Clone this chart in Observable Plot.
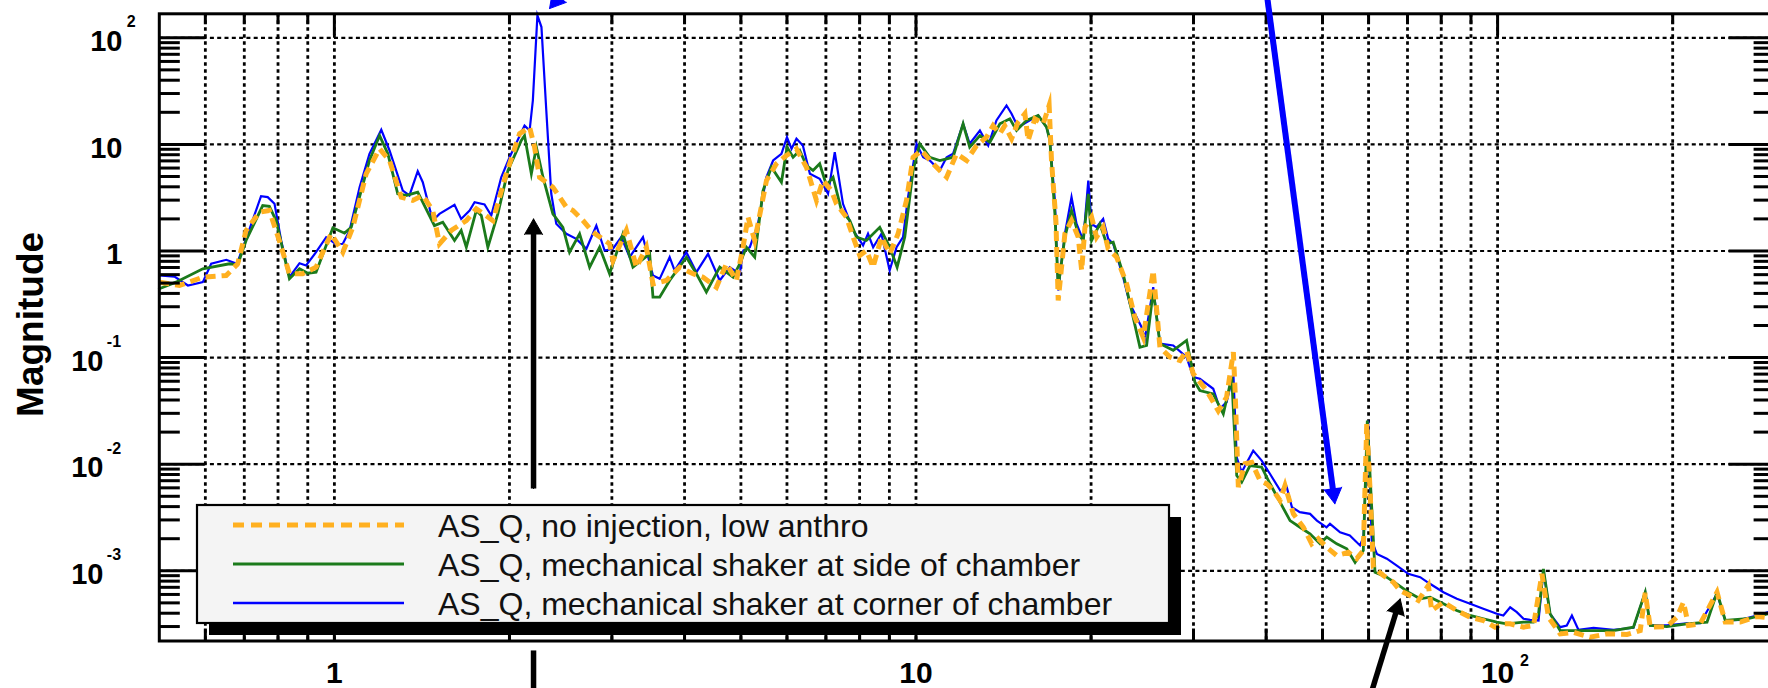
<!DOCTYPE html>
<html>
<head>
<meta charset="utf-8">
<script src="https://cdn.jsdelivr.net/npm/d3@7"></script>
<script src="https://cdn.jsdelivr.net/npm/@observablehq/plot@0.6"></script>
<style>
  html, body { margin: 0; padding: 0; background: #fff; overflow: hidden; }
  #wrap { position: relative; width: 1768px; height: 688px; overflow: hidden; background: #fff; }
  #wrap svg { max-width: none !important; display: block; }
</style>
</head>
<body>
<div id="wrap"></div>
<script>
// ---------------- DATA (frequency in Hz, magnitude) ----------------
const seriesNames = [
  "AS_Q, no injection, low anthro",
  "AS_Q, mechanical shaker at side of chamber",
  "AS_Q, mechanical shaker at corner of chamber"
];

// orange dashed: no injection, low anthro
const quietRun = [
[0.5,0.51],[0.5415,0.475],[0.594,0.568],[0.6515,0.589],[0.682,0.759],[0.705,1.557],[0.743,2.31],[0.773,2.40],[0.804,1.254],[0.837,0.611],[0.882,0.611],[0.93,0.705],[0.987,1.45],[1.034,0.974],[1.076,1.67],[1.134,5.30],[1.196,9.09],[1.244,7.06],[1.303,3.20],[1.364,2.98],[1.419,3.32],[1.476,2.40],[1.516,1.168],[1.588,1.557],[1.686,1.93],
[1.754,2.49],[1.873,1.93],[1.975,5.30],[2.082,12.6],[2.166,14.5],[2.209,9.41],[2.253,4.92],[2.375,3.97],[2.505,2.58],[2.572,2.40],[2.676,1.93],[2.783,1.50],[2.973,1.168],[3.013,0.815],[3.177,1.557],[3.306,0.705],[3.439,1.085],[3.53,0.492],[3.722,0.529],[3.924,0.705],[4.137,0.611],[4.304,0.568],[4.538,0.457],[4.721,0.759],[4.912,0.529],
[5.042,1.085],[5.143,2.08],[5.281,1.254],[5.532,4.58],[5.754,6.58],[5.987,7.87],[6.229,9.09],[6.481,6.11],[6.744,2.98],[6.92,4.58],[7.155,3.69],[7.298,2.77],[7.593,2.08],[7.796,1.35],[8.004,0.907],[8.219,1.01],[8.438,0.705],[8.723,1.35],[9.014,0.941],[9.316,1.45],[9.631,2.98],[9.886,7.58],[10.22,8.77],[10.7,6.58],[11.29,4.92],[11.74,8.16],[12.22,7.06],[12.71,9.76],
[13.22,11.7],[13.57,15.0],[13.94,12.6],[14.21,15.0],[14.6,11.3],[14.98,16.2],[15.39,19.4],[15.59,10.9],[16.01,17.4],[16.55,15.6],[16.94,23.2],[17.1,7.06],[17.4,1.93],[17.56,0.343],[18.03,1.45],[18.51,1.93],[19.01,1.35],[19.27,0.656],[19.52,1.67],[20.04,2.08],[20.44,1.35],[20.98,1.67],[21.4,1.05],[22.13,0.875],[23.02,0.492],[23.79,0.239],[24.59,0.155],[25.58,0.656],[26.27,0.125],[27.33,0.101],[28.44,0.0939],[29.19,0.1166],[29.97,0.0705],[31.6,0.0491],[33.09,0.0316],[34.2,0.0425],[35.13,0.1124],
[35.37,0.0491],[35.83,0.00609],[36.79,0.0101],[37.78,0.0104],[39.04,0.00704],[40.09,0.00655],[41.15,0.00567],[42.26,0.00457],[43.1,0.00631],[44.55,0.00342],[46.35,0.00256],[47.91,0.00179],[49.17,0.0020],[50.84,0.00166],[52.9,0.00139],[55.38,0.00149],[57.26,0.0013],[58.76,0.00155],[59.57,0.0239],[60.36,0.00567],[61.15,0.00108],[63.62,0.000903],[66.18,0.000781],[67.97,0.000653],[70.7,0.000586],[73.08,0.000527],[76.03,0.000728],[77.05,0.000424],[80.69,0.000508],[85.07,0.000424],[89.67,0.000367],[94.54,0.000342],[99.0,0.000296],[102.3,0.000318],
[105.1,0.000318],[110.8,0.000296],[115.3,0.000307],[119.2,0.000937],[122.3,0.000367],[128.1,0.000256],[135,0.000265],[144.2,0.000238],[154.1,0.000256],[166.9,0.000253],[175.9,0.000275],[179.4,0.00062],[183,0.000296],[195.5,0.0003],[203.4,0.000367],[208.7,0.000508],[212.9,0.000307],[223,0.000318],[238.4,0.00063],[246.3,0.00033],[261.4,0.00033],[279.2,0.000373],[292,0.000362],[300,0.00037]
];

// green: mechanical shaker at side of chamber
const sideShaker = [
[0.5,0.442],[0.534,0.51],[0.594,0.681],[0.66,0.759],[0.682,0.742],[0.705,1.254],[0.753,2.67],[0.773,2.62],[0.794,1.93],[0.837,0.548],[0.871,0.681],[0.9,0.619],[0.93,0.633],[0.994,1.65],[1.041,1.47],[1.069,1.67],[1.149,7.06],[1.196,12.1],[1.236,8.16],[1.285,3.44],[1.329,3.32],[1.391,3.56],[1.486,1.73],[1.536,1.86],[1.609,1.254],[1.652,1.557],[1.686,1.085],
[1.754,2.40],[1.789,2.15],[1.836,1.085],[1.91,2.23],[1.988,5.69],[2.096,10.9],[2.123,12.1],[2.181,5.30],[2.225,9.41],[2.284,4.92],[2.375,2.23],[2.471,1.67],[2.537,0.974],[2.64,1.45],[2.747,0.705],[2.858,1.085],[2.973,0.611],[3.134,1.45],[3.261,0.705],[3.484,0.941],[3.53,0.369],[3.625,0.369],[3.771,0.529],[4.029,0.875],[4.192,0.611],[4.361,0.411],[4.598,0.705],[4.846,0.568],
[4.977,0.759],[5.11,1.085],[5.281,0.875],[5.458,3.69],[5.642,6.11],[5.87,4.42],[6.002,9.41],[6.147,7.58],[6.311,8.77],[6.481,6.34],[6.653,5.69],[6.83,6.58],[7.015,4.12],[7.202,4.92],[7.444,2.40],[7.694,1.93],[7.9,1.35],[8.219,1.254],[8.664,1.67],[9.014,1.085],[9.28,0.705],[9.566,1.35],[9.886,5.69],[10.15,10.13],[10.56,7.58],[10.99,7.06],[11.58,7.58],[12.05,15.6],[12.37,9.41],[12.88,12.1],
[13.4,10.5],[13.94,15.6],[14.5,17.4],[14.89,13.5],[15.49,16.8],[16.22,18.7],[16.77,14.5],[16.99,10.9],[17.33,2.23],[17.56,0.457],[18.03,1.35],[18.51,2.40],[19.01,1.45],[19.39,1.254],[19.78,3.44],[20.04,1.254],[20.71,1.80],[21.27,1.168],[21.83,1.21],[22.71,0.611],[23.48,0.277],[24.27,0.125],[24.92,0.130],[25.58,0.426],[26.27,0.135],[27.69,0.117],[29.19,0.145],[30.17,0.0588],[30.77,0.0491],[32.44,0.0457],[33.76,0.0297],[34.9,0.0655],
[35.6,0.00783],[36.31,0.00678],[37.52,0.00972],[39.3,0.00937],[40.62,0.00655],[42.26,0.0044],[43.97,0.00296],[45.73,0.00256],[47.58,0.00222],[49.52,0.00179],[50.84,0.00207],[52.9,0.00179],[55.04,0.00161],[56.88,0.0012],[58.76,0.00155],[59.7,0.0257],[60.75,0.00395],[61.55,0.00097],[64.46,0.000871],[67.07,0.000755],[70.23,0.00063],[73.56,0.000546],[76.53,0.000565],[80.69,0.00049],[85.07,0.000424],[89.67,0.000381],[94.54,0.000355],[99.68,0.00033],[103.7,0.000318],
[110.8,0.00033],[115.3,0.00033],[117.6,0.000395],[119.9,0.00104],[123.1,0.000395],[128.1,0.000275],[136.9,0.000275],[146.2,0.000275],[158.2,0.000275],[171.2,0.000296],[179.4,0.00063],[183.0,0.000307],[195.5,0.0003],[211.6,0.000318],[229.1,0.00033],[238.4,0.00063],[246.3,0.000342],[268.4,0.000355],[292.0,0.000395],[300,0.0004]
];

// blue: mechanical shaker at corner of chamber
const cornerShaker = [
[0.5,0.589],[0.531,0.576],[0.56,0.475],[0.594,0.51],[0.614,0.759],[0.652,0.827],[0.68,0.759],[0.705,1.30],[0.748,3.27],[0.768,3.20],[0.789,2.77],[0.81,1.254],[0.837,0.568],[0.871,0.768],[0.894,0.731],[0.93,0.974],[0.968,1.347],[1.007,1.151],[1.034,1.168],[1.062,1.557],[1.105,3.97],[1.149,8.16],[1.204,13.7],[1.244,8.77],[1.311,3.69],[1.346,3.32],[1.391,5.61],[1.419,4.42],[1.476,1.93],[1.516,2.23],[1.609,2.71],[1.652,2.00],[1.708,2.40],
[1.742,2.87],[1.812,2.73],[1.861,2.15],[1.936,4.92],[2.001,7.58],[2.123,15.0],[2.166,13.5],[2.194,25.8],[2.234,162],[2.270,126],[2.314,20.8],[2.360,3.44],[2.407,1.80],[2.505,1.45],[2.606,1.30],[2.712,1.05],[2.821,1.73],[2.915,1.01],[3.013,1.05],[3.114,1.35],[3.219,0.875],[3.393,1.35],[3.530,0.589],[3.625,0.548],[3.771,0.875],[3.846,0.656],[4.029,0.974],[4.192,0.633],[4.390,0.941],[4.598,0.529],[4.784,0.705],[4.977,0.611],
[5.05,1.01],[5.18,1.085],[5.35,1.80],[5.53,4.92],[5.68,7.06],[5.87,8.16],[6.00,11.7],[6.11,9.09],[6.23,11.3],[6.39,9.76],[6.57,5.30],[6.83,4.76],[7.06,3.44],[7.25,8.45],[7.49,2.77],[7.80,1.56],[8.11,1.13],[8.27,1.45],[8.44,1.085],[8.72,1.45],[9.01,0.656],[9.26,1.085],[9.50,1.35],[9.69,3.20],[10.02,10.13],[10.29,7.58],[10.56,7.06],[10.99,5.69],[11.29,7.58],[11.58,8.16],[12.05,15.6],[12.37,10.13],[12.88,13.5],
[13.31,9.76],[13.75,16.8],[14.31,23.2],[14.60,19.4],[14.98,14.5],[15.70,16.8],[16.22,18.7],[16.77,14.5],[16.99,10.9],[17.33,2.98],[17.56,0.426],[18.03,1.45],[18.51,3.20],[18.88,1.80],[19.39,1.254],[19.78,4.58],[20.04,1.80],[20.44,1.67],[20.98,2.00],[21.40,1.30],[21.83,1.168],[22.71,0.568],[23.32,0.320],[24.43,0.193],[24.75,0.150],[25.58,0.457],[26.27,0.135],[27.69,0.130],[29.19,0.101],[29.97,0.0655],[30.77,0.0633],[32.44,0.0510],[33.31,0.0331],[34.20,0.0382],[35.13,0.0705],
[35.6,0.0116],[36.3,0.00841],[38.0,0.0134],[39.3,0.0108],[40.6,0.00813],[42.3,0.00567],[43.4,0.00609],[44.3,0.00395],[45.7,0.00355],[47.6,0.00342],[48.9,0.00296],[50.8,0.00256],[51.5,0.00276],[53.6,0.0023],[55.7,0.00214],[58.0,0.00173],[58.8,0.00207],[59.9,0.0257],[60.75,0.00192],[62.0,0.00144],[64.5,0.0013],[67.1,0.00112],[70.2,0.000937],[73.6,0.000871],[76.5,0.000755],[80.7,0.00063],[85.1,0.000546],[89.7,0.00049],[94.5,0.00044],[99.7,0.000395],[102.3,0.000381],[105.1,0.000455],
[107.9,0.000409],[110.8,0.000355],[113.7,0.000347],[117.6,0.000342],[119.9,0.00101],[123.1,0.000395],[128.1,0.000296],[131.5,0.000307],[134.2,0.000381],[137.7,0.00028],[146.2,0.000292],[158.2,0.00028],[171.2,0.000292],[179.4,0.00063],[183.0,0.000307],[195.5,0.000307],[211.6,0.000322],[223.0,0.000322],[238.4,0.000609],[246.3,0.000342],[261.4,0.000347],[279.2,0.000381],[292.0,0.000409],[300,0.00042]
];

// axes
const xDomain = [0.5, 300];
const yDomain = [2.195e-4, 167.9];
const xMajorTicks = [1, 10, 100];
const xMinorTicks = [0.6, 0.7, 0.8, 0.9, 2, 3, 4, 5, 6, 7, 8, 9, 20, 30, 40, 50, 60, 70, 80, 90, 200];
const xTickLabels = [
  {v: 1, base: "1", exp: ""},
  {v: 10, base: "10", exp: ""},
  {v: 100, base: "10", exp: "2"}
];
const yDecades = [0.001, 0.01, 0.1, 1, 10, 100];
const yTickLabels = [
  {v: 100, base: "10", exp: "2"},
  {v: 10, base: "10", exp: ""},
  {v: 1, base: "1", exp: ""},
  {v: 0.1, base: "10", exp: "-1"},
  {v: 0.01, base: "10", exp: "-2"},
  {v: 0.001, base: "10", exp: "-3"}
];
const yLabel = "Magnitude";

// annotation arrows (data coordinates: Hz, magnitude)
const annotationArrows = [
  {x1: 2.2, y1: 0.0059, x2: 2.2, y2: 2.0, color: "black"},
  {x1: 58.6, y1: 3.9e-5, x2: 68.0, y2: 0.000546, color: "black"},
  {x1: 3.02, y1: 990, x2: 2.344, y2: 188, color: "blue"},
  {x1: 39.6, y1: 428, x2: 52.5, y2: 0.00425, color: "blue"}
];
const annotationSegments = [
  {x1: 2.2, y1: 6.0e-5, x2: 2.2, y2: 1.79e-4, color: "black"}
];

// ---------------- STYLE / LAYOUT ----------------
const W = 1790, H = 700, ML = 158.8, MR = 15.4, MT = 13.3, MB = 59.5;
const innerW = W - ML - MR, innerH = H - MT - MB;
const COLORS = {orange: "#FFB020", green: "#1B7A1B", blue: "#0000FF"};
const FONT = "'Liberation Sans', Arial, Helvetica, sans-serif";

const yMinorTicks = [];
for (let k = -4; k <= 2; k++) for (let d = 2; d <= 9; d++) {
  const v = d * Math.pow(10, k);
  if (v > yDomain[0] && v < yDomain[1]) yMinorTicks.push(v);
}

const fx = d => d[0], fy = d => d[1];
const blackArrows = annotationArrows.filter(d => d.color === "black");
const blueArrows = annotationArrows.filter(d => d.color === "blue");

const plot = Plot.plot({
  width: W, height: H,
  marginLeft: ML, marginRight: MR, marginTop: MT, marginBottom: MB,
  style: {fontFamily: FONT, background: "white", color: "black"},
  x: {type: "log", domain: xDomain, axis: null},
  y: {type: "log", domain: yDomain, axis: null},
  marks: [
    // dotted grid
    Plot.ruleY(yDecades, {y: d => d, stroke: "black", strokeWidth: 2.2, strokeDasharray: "4,3.3"}),
    Plot.ruleX(xMinorTicks.concat(xMajorTicks), {x: d => d, stroke: "black", strokeWidth: 2.8, strokeDasharray: "3.4,3.6"}),
    // curves
    Plot.line(cornerShaker, {x: fx, y: fy, stroke: COLORS.blue, strokeWidth: 2.2, strokeLinejoin: "miter", strokeMiterlimit: 6}),
    Plot.line(sideShaker, {x: fx, y: fy, stroke: COLORS.green, strokeWidth: 2.8, strokeLinejoin: "miter", strokeMiterlimit: 6}),
    Plot.line(quietRun, {x: fx, y: fy, stroke: COLORS.orange, strokeWidth: 5, strokeDasharray: "10,6", strokeLinecap: "butt", strokeLinejoin: "miter", strokeMiterlimit: 6}),
    // frame
    Plot.frame({stroke: "black", strokeWidth: 3}),
    // ticks
    Plot.tickY(yDecades, {y: d => d, insetRight: innerW - 46, strokeWidth: 3, stroke: "black"}),
    Plot.tickY(yDecades, {y: d => d, insetLeft: innerW - 46, strokeWidth: 3, stroke: "black"}),
    Plot.tickY(yMinorTicks, {y: d => d, insetRight: innerW - 21, strokeWidth: 3, stroke: "black"}),
    Plot.tickY(yMinorTicks, {y: d => d, insetLeft: innerW - 21, strokeWidth: 3, stroke: "black"}),
    Plot.tickX(xMinorTicks, {x: d => d, insetBottom: innerH - 11, strokeWidth: 3, stroke: "black"}),
    Plot.tickX(xMinorTicks, {x: d => d, insetTop: innerH - 12, strokeWidth: 3, stroke: "black"}),
    Plot.tickX(xMajorTicks, {x: d => d, insetBottom: innerH - 22, strokeWidth: 3, stroke: "black"}),
    Plot.tickX(xMajorTicks, {x: d => d, insetTop: innerH - 15, strokeWidth: 3, stroke: "black"}),
    // y tick labels
    Plot.text(yTickLabels.filter(d => !d.exp.startsWith("-")), {y: "v", text: "base", frameAnchor: "left", textAnchor: "end", lineAnchor: "middle", dx: -36.8, dy: 4, fontSize: 29, fontWeight: "bold", fill: "black"}),
    Plot.text(yTickLabels.filter(d => d.exp.startsWith("-")), {y: "v", text: "base", frameAnchor: "left", textAnchor: "end", lineAnchor: "middle", dx: -55.8, dy: 4, fontSize: 29, fontWeight: "bold", fill: "black"}),
    Plot.text(yTickLabels.filter(d => d.exp && !d.exp.startsWith("-")), {y: "v", text: "exp", frameAnchor: "left", textAnchor: "start", lineAnchor: "middle", dx: -32.5, dy: -15.5, fontSize: 16, fontWeight: "bold", fill: "black"}),
    Plot.text(yTickLabels.filter(d => d.exp.startsWith("-")), {y: "v", text: "exp", frameAnchor: "left", textAnchor: "start", lineAnchor: "middle", dx: -52.5, dy: -15.5, fontSize: 16, fontWeight: "bold", fill: "black"}),
    // x tick labels
    Plot.text(xTickLabels, {x: "v", text: "base", frameAnchor: "bottom", textAnchor: "middle", lineAnchor: "middle", dy: 32.5, fontSize: 30, fontWeight: "bold", fill: "black"}),
    Plot.text(xTickLabels.filter(d => d.exp), {x: "v", text: "exp", frameAnchor: "bottom", textAnchor: "start", lineAnchor: "middle", dx: 22.5, dy: 20, fontSize: 16, fontWeight: "bold", fill: "black"}),
    // y axis label
    Plot.text([yLabel], {text: d => d, frameAnchor: "left", textAnchor: "middle", lineAnchor: "middle", rotate: -90, dx: -128.6, dy: -3, fontSize: 37, fontWeight: "bold", fill: "black"}),
    // annotations
    Plot.link(annotationSegments, {x1: "x1", y1: "y1", x2: "x2", y2: "y2", stroke: "black", strokeWidth: 5.5, strokeLinecap: "butt"}),
    Plot.arrow(blackArrows, {x1: "x1", y1: "y1", x2: "x2", y2: "y2", stroke: "black", strokeWidth: 5.5, headLength: 0, insetEnd: 12, strokeLinecap: "butt"}),
    Plot.arrow(blackArrows, {x1: "x1", y1: "y1", x2: "x2", y2: "y2", stroke: "black", fill: "black", strokeWidth: 1, headLength: 27, headAngle: 60, strokeLinejoin: "miter"}),
    Plot.arrow(blueArrows, {x1: "x1", y1: "y1", x2: "x2", y2: "y2", stroke: COLORS.blue, strokeWidth: 6, headLength: 0, insetEnd: 12, strokeLinecap: "butt"}),
    Plot.arrow(blueArrows, {x1: "x1", y1: "y1", x2: "x2", y2: "y2", stroke: COLORS.blue, fill: COLORS.blue, strokeWidth: 1, headLength: 27, headAngle: 60, strokeLinejoin: "miter"})
  ]
});
document.getElementById("wrap").appendChild(plot);

// ---------------- LEGEND (overlay inside the plot frame) ----------------
const L = {x: 197, y: 505, w: 972, h: 118, shadow: 12, row0: 525, rowStep: 39, lineX1: 233, lineX2: 404, textX: 438};
const legendStyles = [
  {stroke: COLORS.orange, width: 5, dash: "11,7"},
  {stroke: COLORS.green, width: 3.2, dash: null},
  {stroke: COLORS.blue, width: 2.6, dash: null}
];
const ov = d3.select("#wrap").append("svg")
  .attr("width", 1768).attr("height", 688)
  .style("position", "absolute").style("left", "0px").style("top", "0px")
  .style("font-family", FONT);
ov.append("rect").attr("x", L.x + L.shadow).attr("y", L.y + L.shadow).attr("width", L.w).attr("height", L.h).attr("fill", "black");
ov.append("rect").attr("x", L.x).attr("y", L.y).attr("width", L.w).attr("height", L.h)
  .attr("fill", "#f4f4f4").attr("stroke", "black").attr("stroke-width", 2.2);
seriesNames.forEach((name, i) => {
  const cy = L.row0 + i * L.rowStep;
  const s = legendStyles[i];
  const ln = ov.append("line").attr("x1", L.lineX1).attr("x2", L.lineX2).attr("y1", cy).attr("y2", cy)
    .attr("stroke", s.stroke).attr("stroke-width", s.width);
  if (s.dash) ln.attr("stroke-dasharray", s.dash);
  ov.append("text").attr("x", L.textX).attr("y", cy + 11.5).attr("font-size", 32).attr("fill", "#111").text(name);
});
</script>
</body>
</html>
